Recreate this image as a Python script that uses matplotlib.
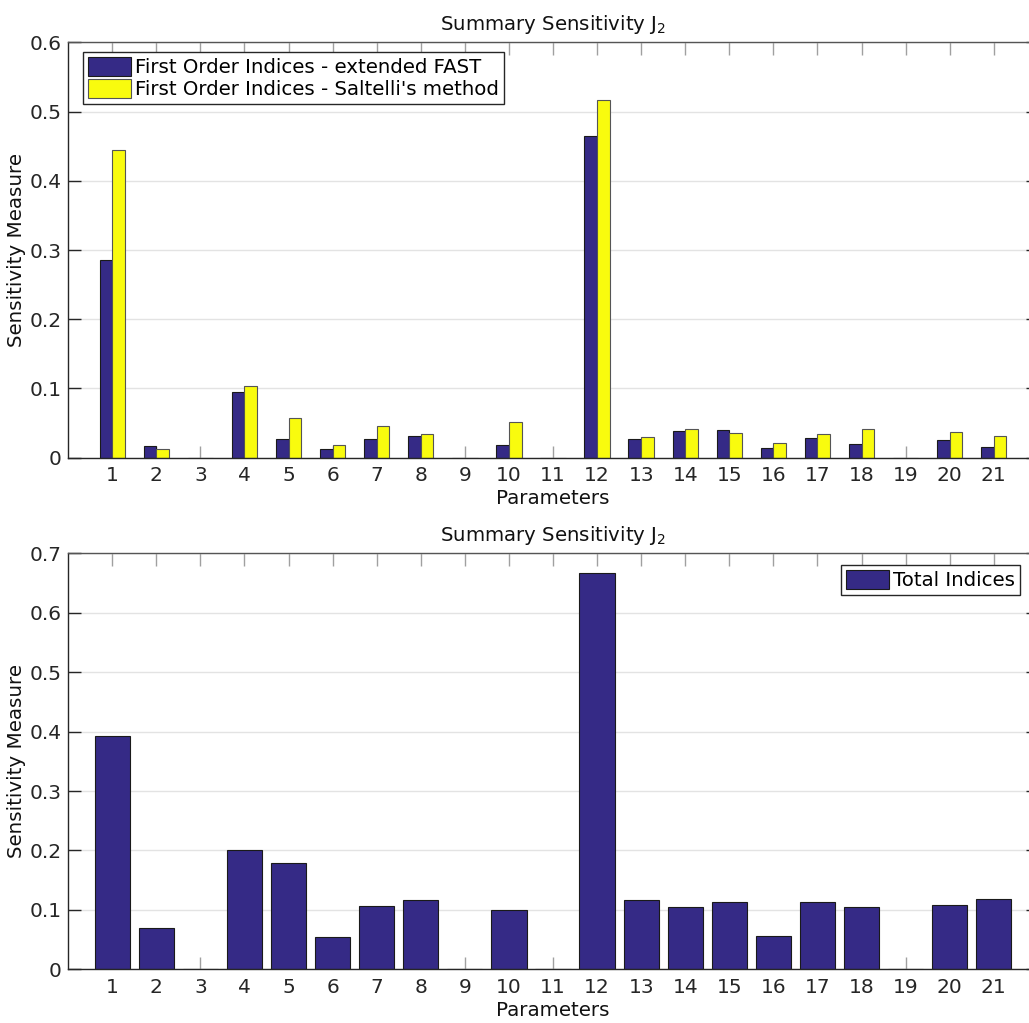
import numpy as np
import matplotlib.pyplot as plt

plt.rcParams['font.family'] = ['DejaVu Sans']
plt.rcParams['mathtext.default'] = 'regular'

params = np.arange(1, 22)
tick_labels = [str(p) for p in params]

# first order indices
fast_first = [0.285, 0.017, 0.0, 0.095, 0.027, 0.012, 0.027, 0.031, 0.0, 0.018, 0.0,
              0.465, 0.0265, 0.038, 0.0395, 0.014, 0.028, 0.0197, 0.0, 0.025, 0.016]
saltelli_first = [0.445, 0.012, 0.0, 0.103, 0.058, 0.018, 0.0457, 0.0337, 0.0, 0.051, 0.0,
                  0.517, 0.030, 0.042, 0.035, 0.0207, 0.0346, 0.041, 0.0, 0.0366, 0.031]

# total indices
total = [0.393, 0.0695, 0.0, 0.2, 0.179, 0.054, 0.106, 0.117, 0.0, 0.1, 0.0,
         0.667, 0.116, 0.104, 0.113, 0.0566, 0.113, 0.104, 0.0, 0.1077, 0.118]

blue = '#352a86'
yellow = '#f9fb0e'
axcol = '#262626'

W, H = 1029, 1023
fig = plt.figure(figsize=(W / 100, H / 100), dpi=100)

left = 68.2 / W
width = 969.6 / W


def style_axes(ax, ymax, ystep):
    ax.set_xlim(0, 22)
    ax.set_ylim(0, ymax)
    ax.set_xticks(params)
    ax.set_xticklabels(tick_labels)
    ax.set_yticks(np.arange(0, ymax + 1e-9, ystep))
    ax.set_yticklabels(['0'] + [f'{v:.1f}' for v in np.arange(ystep, ymax + 1e-9, ystep)])
    ax.tick_params(direction='in', length=9, width=1, colors=axcol,
                   top=True, right=True, labelsize=14.5, pad=6)
    ax.tick_params(axis='y', pad=4.5)
    ax.tick_params(axis='x', colors='#a0a0a0', labelcolor=axcol)
    for s in ax.spines.values():
        s.set_color(axcol)
        s.set_linewidth(1)
    ax.spines['top'].set_color('#555555')
    ax.yaxis.grid(True, color='#e3e3e3', linewidth=1)
    ax.set_axisbelow(True)
    ax.set_xlabel('Parameters', fontsize=14.3, color='#111111', labelpad=3)
    ax.set_ylabel('Sensitivity Measure', fontsize=14.3, color='#111111', labelpad=3)
    ax.set_title('Summary Sensitivity J$_2$', fontsize=14.2, color='#111111', pad=9)


# top: first order
ax1 = fig.add_axes([left, 1 - 457.7 / H, width, (457.7 - 42.3) / H])
bw = 0.287
ax1.bar(params - bw / 2, fast_first, bw, color=blue, edgecolor='#1a1a1a', linewidth=0.8,
        label='First Order Indices - extended FAST')
ax1.bar(params + bw / 2, saltelli_first, bw, color=yellow, edgecolor='#555555', linewidth=0.8,
        label="First Order Indices - Saltelli's method")
style_axes(ax1, 0.6, 0.1)
leg1 = ax1.legend(loc='upper left', bbox_to_anchor=((83 - 68.2) / 969.6, 1 - (52 - 42.3) / 415.4),
                  fontsize=14.2, fancybox=False, edgecolor='#262626', framealpha=1,
                  handlelength=2.2, handleheight=1.1, handletextpad=0.2,
                  borderpad=0.25, labelspacing=0.1, borderaxespad=0)
leg1.get_frame().set_linewidth(1)

# bottom: total
ax2 = fig.add_axes([left, 1 - 969.3 / H, width, (969.3 - 553.3) / H])
ax2.bar(params, total, 0.8, color=blue, edgecolor='#1a1a1a', linewidth=0.8,
        label='Total Indices')
style_axes(ax2, 0.7, 0.1)
leg2 = ax2.legend(loc='upper right', bbox_to_anchor=((1020 - 68.2) / 969.6, 1 - (565 - 553.3) / 416),
                  fontsize=14.2, fancybox=False, edgecolor='#262626', framealpha=1,
                  handlelength=2.2, handleheight=1.1, handletextpad=0.2,
                  borderpad=0.25, labelspacing=0.1, borderaxespad=0)
leg2.get_frame().set_linewidth(1)

fig.savefig('out.png', dpi=100)
